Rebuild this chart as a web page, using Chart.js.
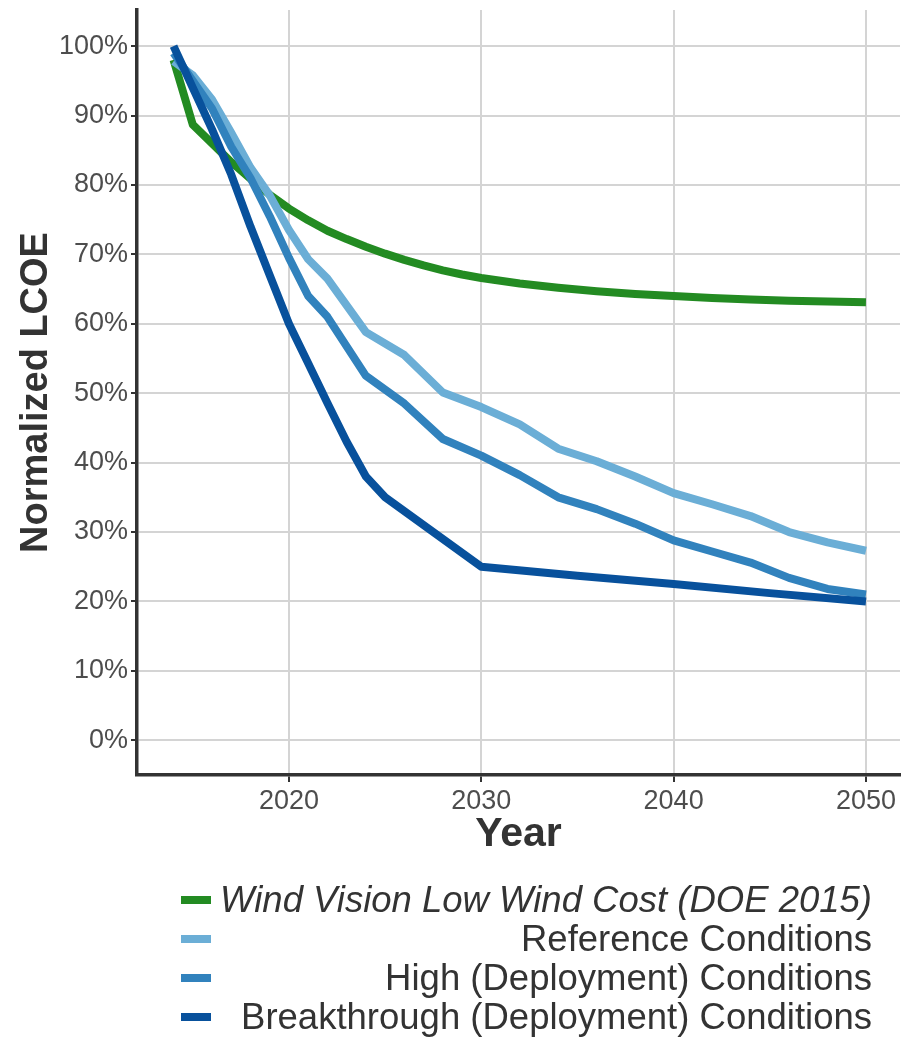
<!DOCTYPE html>
<html>
<head>
<meta charset="utf-8">
<script src="https://cdn.jsdelivr.net/npm/chart.js@4"></script>
<style>
  html, body { margin: 0; padding: 0; background: #fff; }
  #wrap { width: 902px; height: 1038px; }
</style>
</head>
<body>
<div id="wrap"><canvas id="chart1"></canvas></div>
<script>
// values (normalized LCOE, % of 2014)
const visionYears  = [2014, 2015, 2016, 2017, 2018, 2019, 2020, 2021, 2022, 2023, 2024, 2025, 2026, 2027, 2028, 2029, 2030, 2032, 2034, 2036, 2038, 2040, 2042, 2044, 2046, 2048, 2050];
const visionValues = [98, 88.7, 86, 83.3, 80.9, 78.6, 76.6, 74.9, 73.4, 72.2, 71.1, 70.1, 69.2, 68.4, 67.7, 67.1, 66.6, 65.8, 65.2, 64.7, 64.3, 64.0, 63.7, 63.5, 63.3, 63.2, 63.1];

const refYears  = [2014, 2015, 2016, 2017, 2018, 2019, 2020, 2021, 2022, 2024, 2026, 2028, 2030, 2032, 2034, 2036, 2038, 2040, 2042, 2044, 2046, 2048, 2050];
const refValues = [97.8, 95.8, 92.3, 87.5, 82.5, 78.5, 73.5, 69.3, 66.5, 58.8, 55.5, 50.1, 48.0, 45.5, 42.0, 40.2, 38.0, 35.6, 34.0, 32.3, 30.0, 28.5, 27.3];

const highYears  = [2014, 2015, 2016, 2017, 2018, 2019, 2020, 2021, 2022, 2024, 2026, 2028, 2030, 2032, 2034, 2036, 2038, 2040, 2042, 2044, 2046, 2048, 2050];
const highValues = [99, 95, 91, 85.5, 81, 75.5, 69.5, 64, 61, 52.5, 48.5, 43.4, 41.0, 38.2, 35.0, 33.3, 31.2, 28.8, 27.2, 25.6, 23.4, 21.8, 21.0];

const btYears  = [2014, 2015, 2016, 2017, 2018, 2019, 2020, 2021, 2022, 2023, 2024, 2025, 2030, 2035, 2040, 2045, 2050];
const btValues = [100, 94, 88, 81.5, 74, 67, 60, 54.3, 48.6, 43, 38, 35, 25, 23.7, 22.5, 21.2, 20];

const seriesNames = [
  'Wind Vision Low Wind Cost (DOE 2015)',
  'Reference Conditions',
  'High (Deployment) Conditions',
  'Breakthrough (Deployment) Conditions'
];
const seriesColors = ['#238b22', '#6baed6', '#3182bd', '#08519c'];

const yTicks = [0, 10, 20, 30, 40, 50, 60, 70, 80, 90, 100];
const xTicks = [2020, 2030, 2040, 2050];

const toPoints = (xs, ys) => xs.map((x, i) => ({ x: x, y: ys[i] }));

// legend drawn by hand: swatch on the left, text right-aligned
const legendBox = {
  id: 'legendBox',
  afterDraw(chart) {
    const ctx = chart.ctx;
    ctx.save();
    chart.data.datasets.forEach((ds, i) => {
      const y = 900 + i * 39;
      ctx.fillStyle = ds.borderColor;
      ctx.fillRect(181, y - 4, 30, 8);
      ctx.font = (i === 0 ? 'italic ' : '') + '36.5px "Liberation Sans", Arial, sans-serif';
      ctx.fillStyle = '#333333';
      ctx.textAlign = 'right';
      ctx.textBaseline = 'alphabetic';
      ctx.fillText(ds.label, 872, y + 12);
    });
    ctx.restore();
  }
};

function makeSet(i, xs, ys, order) {
  return {
    label: seriesNames[i],
    data: toPoints(xs, ys),
    borderColor: seriesColors[i],
    backgroundColor: seriesColors[i],
    borderWidth: 8,
    borderCapStyle: 'butt',
    borderJoinStyle: 'round',
    pointRadius: 0,
    tension: 0,
    fill: false,
    order: order
  };
}

const tickFont = { family: '"Liberation Sans", Arial, sans-serif', size: 27 };
const yTitleFont = { family: '"Liberation Sans", Arial, sans-serif', size: 38, weight: 'bold' };
const xTitleFont = { family: '"Liberation Sans", Arial, sans-serif', size: 41, weight: 'bold' };

const config = {
  type: 'line',
  data: {
    datasets: [
      makeSet(0, visionYears, visionValues, 3),
      makeSet(1, refYears, refValues, 2),
      makeSet(2, highYears, highValues, 1),
      makeSet(3, btYears, btValues, 0)
    ]
  },
  options: {
    responsive: true,
    maintainAspectRatio: false,
    animation: false,
    devicePixelRatio: 1,
    layout: { padding: { top: 10, right: 2, left: 0, bottom: 171 } },
    plugins: {
      legend: { display: false },
      tooltip: { enabled: false }
    },
    scales: {
      x: {
        type: 'linear',
        min: 2012.1,
        max: 2051.77,
        afterBuildTicks: (s) => { s.ticks = xTicks.map(v => ({ value: v })); },
        afterFit: (s) => { s.height = 92; },
        ticks: { font: tickFont, color: '#4d4d4d', padding: 3, maxRotation: 0, callback: (v) => String(v) },
        grid: { color: '#d4d4d4', lineWidth: 2, tickColor: '#333333', tickLength: 7 },
        border: { color: '#333333', width: 3.5 },
        title: { display: true, text: 'Year', font: xTitleFont, color: '#333333', padding: { top: 0, bottom: 8 } }
      },
      y: {
        min: -5,
        max: 105.2,
        afterBuildTicks: (s) => { s.ticks = yTicks.map(v => ({ value: v })); },
        // fixed width, and no extra room for half-labels at the ends
        afterFit: (s) => { s.width = 137; s.paddingTop = 0; s.paddingBottom = 0; },
        ticks: { font: tickFont, color: '#4d4d4d', padding: 3, callback: (v) => v + '%' },
        grid: { color: '#d4d4d4', lineWidth: 2, tickColor: '#333333', tickLength: 6 },
        border: { color: '#333333', width: 3.5 },
        title: { display: true, text: 'Normalized LCOE', font: yTitleFont, color: '#333333', padding: { top: 14, bottom: 0 } }
      }
    }
  },
  plugins: [legendBox]
};

const myChart = new Chart(document.getElementById('chart1'), config);
</script>
</body>
</html>
